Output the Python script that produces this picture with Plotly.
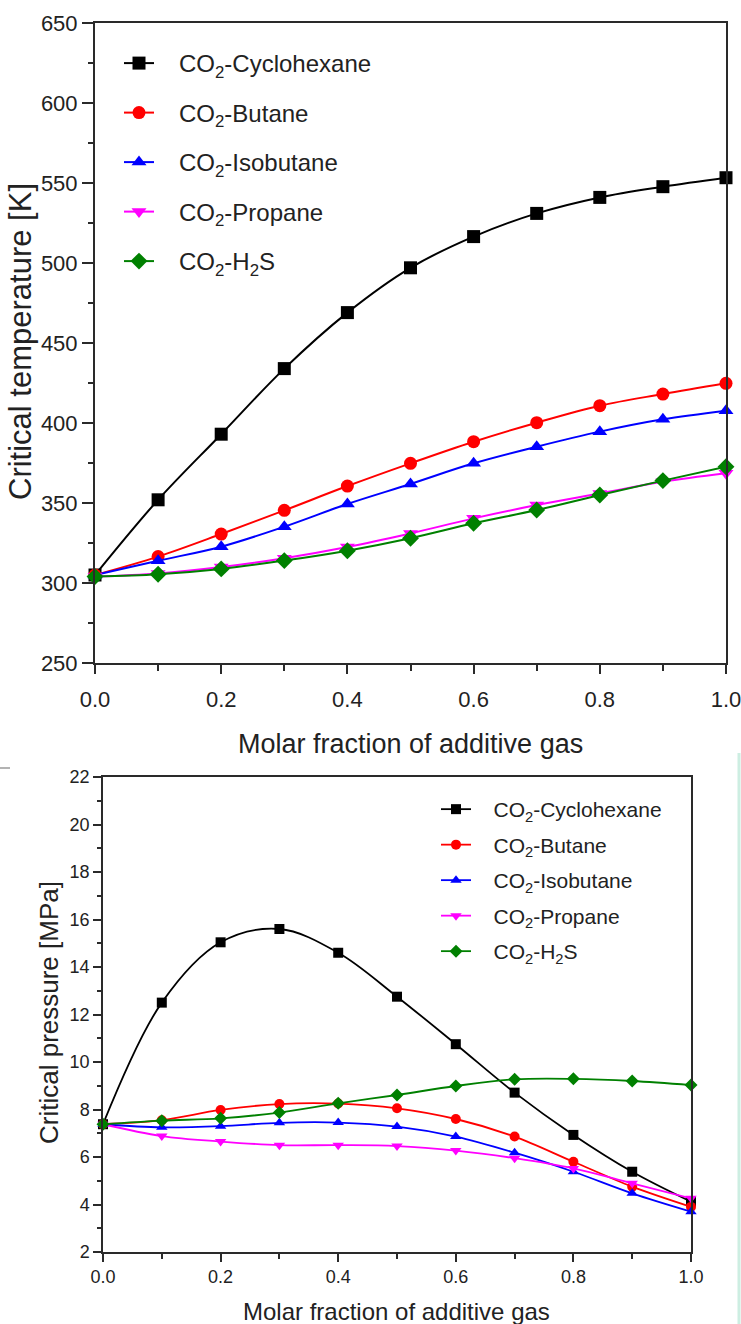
import plotly.graph_objects as go

W, H = 741, 1324

x_frac = [0.0, 0.1, 0.2, 0.3, 0.4, 0.5, 0.6, 0.7, 0.8, 0.9, 1.0]

names = ["CO<sub>2</sub>-Cyclohexane", "CO<sub>2</sub>-Butane", "CO<sub>2</sub>-Isobutane",
         "CO<sub>2</sub>-Propane", "CO<sub>2</sub>-H<sub>2</sub>S"]

# Critical temperature [K]
tc_cyclohexane = [305, 352, 393, 434, 469, 497, 516.5, 531, 541, 547.7, 553.3]
tc_butane = [305, 316.5, 330.6, 345.4, 360.6, 374.8, 388.3, 400.2, 410.8, 418.1, 424.8]
tc_isobutane = [305, 313.9, 322.7, 335.2, 349.4, 361.9, 374.8, 385.2, 394.6, 402.3, 407.7]
tc_propane = [304, 306, 310, 315.5, 322.5, 331, 340.4, 348.7, 356, 363.3, 368.6]
tc_h2s = [304, 305.5, 308.8, 314, 320.2, 328, 337.3, 345.6, 355, 364, 372.7]

# Critical pressure [MPa]
pc_cyclohexane = [7.38, 12.5, 15.04, 15.6, 14.6, 12.75, 10.75, 8.71, 6.93, 5.38, 4.12]
pc_butane = [7.38, 7.55, 7.98, 8.23, 8.25, 8.05, 7.6, 6.86, 5.8, 4.75, 3.9]
pc_isobutane = [7.38, 7.25, 7.3, 7.44, 7.45, 7.28, 6.86, 6.18, 5.38, 4.47, 3.7]
pc_propane = [7.38, 6.88, 6.65, 6.5, 6.5, 6.46, 6.27, 5.95, 5.52, 4.89, 4.26]
pc_h2s = [7.38, 7.53, 7.63, 7.87, 8.26, 8.61, 8.99, 9.27, 9.29, 9.2, 9.03]

colors = ["#000000", "#ff0000", "#0000ff", "#ff00ff", "#008000"]
symbols = ["square", "circle", "triangle-up", "triangle-down", "diamond"]

tc_series = [tc_cyclohexane, tc_butane, tc_isobutane, tc_propane, tc_h2s]
pc_series = [pc_cyclohexane, pc_butane, pc_isobutane, pc_propane, pc_h2s]

FONT = "Liberation Sans, Arial, sans-serif"
TXT = "#222222"
PAD = "&nbsp;&nbsp;&nbsp;"

fig = go.Figure()

for i in range(5):
    fig.add_trace(go.Scatter(
        x=x_frac, y=tc_series[i], name=PAD + names[i], mode="lines+markers",
        line=dict(color=colors[i], width=2, shape="spline", smoothing=1),
        marker=dict(symbol=symbols[i], size=13, color=colors[i]),
        xaxis="x", yaxis="y", legend="legend", legendgroup="t%d" % i,
        cliponaxis=False,
    ))
for i in range(5):
    fig.add_trace(go.Scatter(
        x=x_frac, y=pc_series[i], name=PAD + names[i], mode="lines+markers",
        line=dict(color=colors[i], width=1.8, shape="spline", smoothing=1),
        marker=dict(symbol=symbols[i], size=10, color=colors[i]),
        xaxis="x2", yaxis="y2", legend="legend2", legendgroup="b%d" % i,
        cliponaxis=False,
    ))

def px_x(p):
    return p / W

def px_y(p):
    return 1 - p / H

axis_common = dict(showgrid=False, zeroline=False, showline=True, mirror=True,
                   linecolor="#2a2a2a", linewidth=2, ticks="outside",
                   tickcolor="#2a2a2a", tickwidth=2, automargin=False,
                   ticklabeloverflow="allow")

fig.update_layout(
    template="none",
    width=W, height=H,
    margin=dict(l=0, r=0, t=0, b=0, pad=0, autoexpand=False),
    paper_bgcolor="white", plot_bgcolor="white",
    font=dict(family=FONT, color=TXT),
    xaxis=dict(domain=[px_x(95), px_x(726)], range=[0, 1], anchor="y",
               tickvals=[0, 0.2, 0.4, 0.6, 0.8, 1.0],
               ticktext=["0.0", "0.2", "0.4", "0.6", "0.8", "1.0"],
               ticklen=9, ticklabelstandoff=7, tickfont=dict(size=22, color=TXT),
               minor=dict(dtick=0.1, ticks="outside", ticklen=6, tickwidth=2,
                          tickcolor="#2a2a2a", showgrid=False),
               **axis_common),
    yaxis=dict(domain=[px_y(663), px_y(23)], range=[250, 650], anchor="x",
               dtick=50, ticklen=11, tickfont=dict(size=22, color=TXT),
               minor=dict(dtick=25, ticks="outside", ticklen=5, tickwidth=2,
                          tickcolor="#2a2a2a", showgrid=False),
               **axis_common),
    xaxis2=dict(domain=[px_x(103), px_x(691)], range=[0, 1], anchor="y2",
                tickvals=[0, 0.2, 0.4, 0.6, 0.8, 1.0],
                ticktext=["0.0", "0.2", "0.4", "0.6", "0.8", "1.0"],
                ticklen=8, tickfont=dict(size=18, color=TXT),
                minor=dict(dtick=0.1, ticks="outside", ticklen=5, tickwidth=1.5,
                           tickcolor="#2a2a2a", showgrid=False),
                **{**axis_common, "linewidth": 1.5, "tickwidth": 1.5}),
    yaxis2=dict(domain=[px_y(1252), px_y(777)], range=[2, 22], anchor="x2",
                dtick=2, ticklen=8, tickfont=dict(size=18, color=TXT),
                minor=dict(dtick=1, ticks="outside", ticklen=4, tickwidth=1.5,
                           tickcolor="#2a2a2a", showgrid=False),
                **{**axis_common, "linewidth": 1.5, "tickwidth": 1.5}),
    legend=dict(x=px_x(119), y=px_y(41), xanchor="left", yanchor="top",
                font=dict(size=24, color=TXT), bgcolor="rgba(0,0,0,0)",
                tracegroupgap=15.3, itemsizing="trace"),
    legend2=dict(x=px_x(436), y=px_y(789), xanchor="left", yanchor="top",
                 font=dict(size=21, color=TXT), bgcolor="rgba(0,0,0,0)",
                 tracegroupgap=5.2, itemsizing="trace"),
    showlegend=True,
)

annotations = [
    dict(text="Molar fraction of additive gas", x=px_x(410), y=px_y(744),
         font=dict(size=27, color=TXT)),
    dict(text="Critical temperature [K]", x=px_x(20), y=px_y(342), textangle=-90,
         font=dict(size=31, color=TXT)),
    dict(text="Molar fraction of additive gas", x=px_x(396), y=px_y(1311),
         font=dict(size=24, color=TXT)),
    dict(text="Critical pressure [MPa]", x=px_x(49), y=px_y(1013), textangle=-90,
         font=dict(size=26, color=TXT)),
]
for a in annotations:
    a.update(xref="paper", yref="paper", showarrow=False,
             xanchor="center", yanchor="middle")
fig.update_layout(annotations=annotations)

# scan artifacts at the edges of the bottom panel
fig.add_shape(type="line", xref="paper", yref="paper",
              x0=px_x(0), x1=px_x(10), y0=px_y(768), y1=px_y(768),
              line=dict(color="#9a9a9a", width=1.5))
fig.add_shape(type="line", xref="paper", yref="paper",
              x0=px_x(739), x1=px_x(739), y0=px_y(753), y1=px_y(1324),
              line=dict(color="#cdeee2", width=3))

fig.write_html(
    "out.html",
    config={"displayModeBar": False},
    post_script="document.body.style.margin='0';"
                "document.documentElement.style.overflow='hidden';"
                "document.body.style.overflow='hidden';",
)
